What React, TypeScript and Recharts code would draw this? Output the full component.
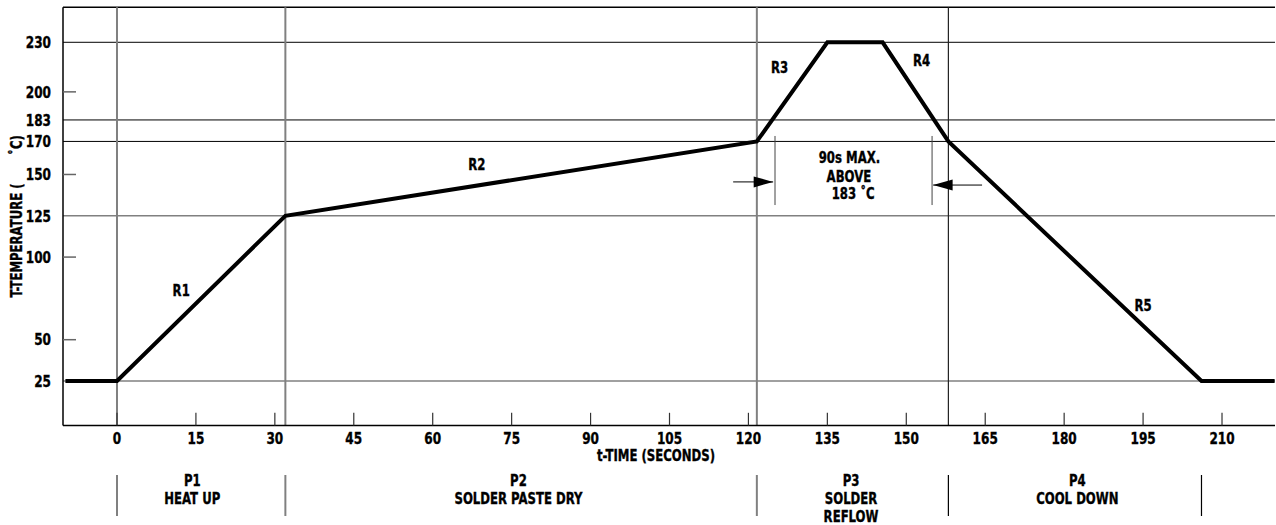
import React from 'react';
import { ComposedChart, Line, XAxis, YAxis, ReferenceLine, ReferenceDot, Label } from 'recharts';

// ---- data ----
const TIME = [-9.8, 0, 32, 121.6, 135, 145.5, 158, 206.1, 220];
const TEMP = [25, 25, 125, 170, 230, 230, 170, 25, 25];

const X_TICKS = [0, 15, 30, 45, 60, 75, 90, 105, 120, 135, 150, 165, 180, 195, 210];
const Y_TICKS = [25, 50, 100, 125, 150, 170, 183, 200, 230];
const Y_MINOR = [200, 150, 100, 50];
const Y_LINES_DARK = [230, 183, 170];
const Y_LINES_GRAY = [125, 25];

const PHASE_LINES_GRAY = [0, 32, 121.6];
const PHASE_LINES_DARK = [158];
const PHASE_SEPARATORS = [0, 32, 121.6, 158, 206.1];
const PHASE_LABEL_T = [14.3, 76.3, 139.5, 182.5];
const PHASE_LABELS = [['P1', 'HEAT UP'], ['P2', 'SOLDER PASTE DRY'], ['P3', 'SOLDER', 'REFLOW'], ['P4', 'COOL DOWN']];

const RATE_LABELS = ['R1', 'R2', 'R3', 'R4', 'R5'];
const RATE_LABEL_T = [12.2, 68.4, 125.9, 152.9, 195];
const RATE_LABEL_TEMP = [79.5, 155.8, 215, 219, 71];

const NOTE_LINES = ['90s MAX.', 'ABOVE', '183 ˚C'];
const NOTE_T = [139.2, 139.1, 139.9];
const NOTE_TEMP = [160.3, 148.5, 138.2];

const MARKER_T = [125.05, 154.9];
const MARKER_TEMP = [131.5, 173.3];
const ARROW_RIGHT = { from: 117.1, tip: 124.7, temp: 145.5 };
const ARROW_LEFT = { from: 164.4, tip: 155.1, temp: 143.6 };

const X_DOMAIN: [number, number] = [-10.26, 220.07];
const Y_DOMAIN: [number, number] = [-1.93, 251.18];

const X_TITLE = 't-TIME (SECONDS)';
const Y_TITLE = 'T-TEMPERATURE (       ˚C)';

const data = TIME.map((t, i) => ({ t, temp: TEMP[i] }));

// ---- style ----
const FONT = "'DejaVu Sans Condensed', 'DejaVu Sans', sans-serif";
const SX = 0.84;
const W = 1276;
const H = 525;
const GRAY = '#808080';

function T(props: { x: number; y: number; size: number; anchor?: string; rotate?: number; children: any }) {
  const { x, y, size, anchor = 'middle', rotate = 0, children } = props;
  return (
    <text
      transform={`translate(${x},${y}) rotate(${rotate}) scale(${SX},1)`}
      x={0}
      y={0}
      textAnchor={anchor as any}
      fontFamily={FONT}
      fontWeight={700}
      fontSize={size}
      fill="#000"
      stroke="#000"
      strokeWidth={0.35}
      xmlSpace="preserve"
      style={{ whiteSpace: 'pre' }}
    >
      {children}
    </text>
  );
}

function XTick(props: any) {
  const { x, y, payload } = props;
  return (
    <g>
      <line x1={x} x2={x} y1={y} y2={y - 12.7} stroke="#333" strokeWidth={1.2} />
      <T x={x} y={y + 18.5} size={16}>{payload.value}</T>
    </g>
  );
}

function YTick(props: any) {
  const { x, y, payload } = props;
  const minor = Y_MINOR.includes(payload.value);
  return (
    <g>
      {minor && <line x1={x + 12} x2={x + 25} y1={y} y2={y} stroke="#666" strokeWidth={1.5} />}
      <T x={x} y={y + 5.8} size={16} anchor="end">{payload.value}</T>
    </g>
  );
}

function PhaseTick(props: any) {
  const { x, y, payload } = props;
  const v = payload.value;
  const si = PHASE_SEPARATORS.indexOf(v);
  if (si >= 0) {
    const dark = si >= 3;
    return <line x1={x} x2={x} y1={y + 19.5} y2={y + 60.5} stroke={dark ? '#000' : GRAY} strokeWidth={dark ? 1.2 : 2} />;
  }
  const li = PHASE_LABEL_T.indexOf(v);
  if (li < 0) return <g />;
  return (
    <g>
      {PHASE_LABELS[li].map((s, k) => (
        <T key={k} x={x} y={y + 30 + k * 18.2} size={15.5}>{s}</T>
      ))}
    </g>
  );
}

const textShape = (s: string) => (p: any) => <T x={p.cx} y={p.cy + 5.5} size={15.5}>{s}</T>;

const arrowShape = (dir: number) => (p: any) => (
  <polygon
    points={`${p.cx},${p.cy} ${p.cx - dir * 19.5},${p.cy - 5.5} ${p.cx - dir * 19.5},${p.cy + 5.5}`}
    fill="#000"
  />
);

export default function App() {
  return (
    <div style={{ position: 'absolute', left: 0, top: 0, width: W, height: H, background: '#fff' }}>
      <ComposedChart width={W} height={H} data={data} margin={{ top: 7.3, right: 1, bottom: 0, left: 0 }}>
        <XAxis
          dataKey="t"
          type="number"
          domain={X_DOMAIN}
          allowDataOverflow
          ticks={X_TICKS}
          interval={0}
          height={30}
          tickSize={0}
          tickMargin={0}
          tickLine={false}
          axisLine={{ stroke: '#000', strokeWidth: 1.5 }}
          tick={(p: any) => <XTick {...p} />}
        >
          <Label
            content={(p: any) => {
              const vb = p.viewBox || {};
              return (
                <T x={vb.x + vb.width / 2 - 13} y={vb.y + 35.5} size={15.5}>{X_TITLE}</T>
              );
            }}
          />
        </XAxis>
        <XAxis
          xAxisId="phase"
          dataKey="t"
          type="number"
          domain={X_DOMAIN}
          allowDataOverflow
          ticks={[...PHASE_SEPARATORS, ...PHASE_LABEL_T]}
          interval={0}
          height={69.5}
          tickSize={0}
          tickMargin={0}
          tickLine={false}
          axisLine={false}
          tick={(p: any) => <PhaseTick {...p} />}
        />
        <YAxis
          type="number"
          domain={Y_DOMAIN}
          allowDataOverflow
          ticks={Y_TICKS}
          interval={0}
          width={63}
          tickSize={0}
          tickMargin={12}
          tickLine={false}
          axisLine={{ stroke: '#000', strokeWidth: 1.5 }}
          tick={(p: any) => <YTick {...p} />}
        >
          <Label
            content={(p: any) => {
              const vb = p.viewBox || {};
              const cx = 22;
              const cy = vb.y + vb.height / 2;
              return <T x={cx} y={cy} size={15.5} rotate={-90}>{Y_TITLE}</T>;
            }}
          />
        </YAxis>

        <ReferenceLine y={Y_DOMAIN[1]} stroke="#000" strokeWidth={1.5} ifOverflow="visible" />
        {Y_LINES_DARK.map((v) => (
          <ReferenceLine key={'yd' + v} y={v} stroke="#000" strokeWidth={1} />
        ))}
        {Y_LINES_GRAY.map((v) => (
          <ReferenceLine key={'yg' + v} y={v} stroke={GRAY} strokeWidth={1.5} />
        ))}
        {PHASE_LINES_GRAY.map((v) => (
          <ReferenceLine key={'xg' + v} x={v} stroke={GRAY} strokeWidth={2} />
        ))}
        {PHASE_LINES_DARK.map((v) => (
          <ReferenceLine key={'xd' + v} x={v} stroke="#222" strokeWidth={1.2} />
        ))}
        {MARKER_T.map((t) => (
          <ReferenceLine
            key={'m' + t}
            segment={[{ x: t, y: MARKER_TEMP[0] }, { x: t, y: MARKER_TEMP[1] }]}
            stroke="#444"
            strokeWidth={1}
          />
        ))}
        <ReferenceLine
          segment={[{ x: ARROW_RIGHT.from, y: ARROW_RIGHT.temp }, { x: ARROW_RIGHT.tip, y: ARROW_RIGHT.temp }]}
          stroke="#000"
          strokeWidth={1}
        />
        <ReferenceLine
          segment={[{ x: ARROW_LEFT.from, y: ARROW_LEFT.temp }, { x: ARROW_LEFT.tip, y: ARROW_LEFT.temp }]}
          stroke="#000"
          strokeWidth={1}
        />
        <ReferenceDot x={ARROW_RIGHT.tip} y={ARROW_RIGHT.temp} r={0} shape={arrowShape(1)} />
        <ReferenceDot x={ARROW_LEFT.tip} y={ARROW_LEFT.temp} r={0} shape={arrowShape(-1)} />

        {RATE_LABELS.map((s, i) => (
          <ReferenceDot key={s} x={RATE_LABEL_T[i]} y={RATE_LABEL_TEMP[i]} r={0} shape={textShape(s)} />
        ))}
        {NOTE_LINES.map((s, i) => (
          <ReferenceDot key={s} x={NOTE_T[i]} y={NOTE_TEMP[i]} r={0} shape={textShape(s)} />
        ))}

        <Line
          type="linear"
          dataKey="temp"
          stroke="#000"
          strokeWidth={4}
          dot={false}
          activeDot={false}
          isAnimationActive={false}
          zIndex={1000}
        />
      </ComposedChart>
    </div>
  );
}
